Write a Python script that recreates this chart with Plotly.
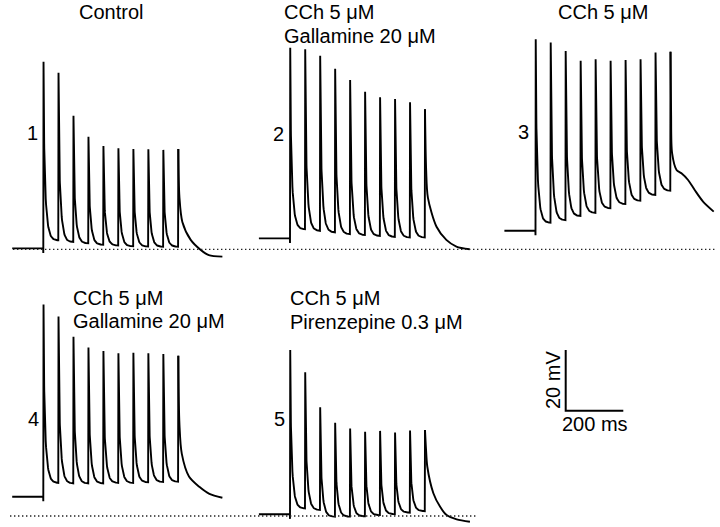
import numpy as np
import plotly.graph_objects as go

# ------------------------------------------------------------------
# Data (mV relative to the dotted reference line,
# time in ms relative to the first stimulus / last spike peak)
# ------------------------------------------------------------------
stim_interval_ms = 52.0
pre_stim_ms = 108.0
n_spikes = 10

panel_labels = ["1", "2", "3", "4", "5"]
panel_conditions = [
    ["Control"],
    ["CCh 5 μM", "Gallamine 20 μM"],
    ["CCh 5 μM"],
    ["CCh 5 μM", "Gallamine 20 μM"],
    ["CCh 5 μM", "Pirenzepine 0.3 μM"],
]

baseline_mv = [0.3, 3.6, 6.1, 6.35, 0.56]

peaks_1 = [61.7, 58.1, 43.9, 37.0, 34.0, 33.2, 33.0, 32.9, 32.7, 33.0]
peaks_2 = [66.3, 65.8, 63.7, 59.4, 55.7, 51.8, 50.0, 49.4, 48.4, 46.1]
peaks_3 = [69.1, 68.0, 65.2, 62.0, 62.5, 62.0, 62.3, 62.5, 64.7, 65.0]
peaks_4 = [69.6, 65.6, 59.0, 55.4, 54.3, 53.5, 53.7, 53.5, 53.3, 52.7]
peaks_5 = [54.6, 47.3, 35.8, 30.7, 28.8, 27.7, 28.0, 27.5, 28.1, 28.3]

# level reached just before spikes 2..10
troughs_1 = [2.96, 2.4, 1.97, 1.5, 1.25, 0.99, 0.92, 0.86, 0.86]
troughs_2 = [6.6, 6.1, 5.6, 5.0, 4.7, 4.4, 4.1, 3.9, 3.9]
troughs_3 = [8.75, 9.6, 10.95, 12.0, 13.5, 14.9, 16.0, 17.9, 19.3]
troughs_4 = [10.9, 10.75, 10.75, 10.75, 10.9, 10.9, 11.1, 11.2, 11.3]
troughs_5 = [2.5, 2.0, -0.2, -0.2, -0.1, 0.3, 0.6, 1.1, 1.6]

# decay after the last spike (ms after its peak, mV)
tail_t_1 = [0, 4, 14, 43, 78, 106, 153]
tail_v_1 = [33.0, 17.0, 9.0, 3.1, -0.2, -1.9, -2.4]
tail_t_2 = [0, 4, 10, 40, 74, 109, 155]
tail_v_2 = [46.1, 26.0, 17.0, 7.4, 3.1, 0.9, 0.0]
tail_t_3 = [0, 2, 5.5, 21, 38, 61, 84, 113, 150]
tail_v_3 = [65.0, 45.0, 31.6, 26.1, 25.0, 22.8, 19.5, 15.7, 12.4]
tail_t_4 = [0, 4, 12, 37, 73, 108, 153]
tail_v_4 = [52.7, 30.0, 20.5, 13.0, 9.6, 7.3, 6.0]
tail_t_5 = [0, 3.5, 8, 29, 52, 75, 110, 156]
tail_v_5 = [28.3, 22.0, 16.2, 7.5, 3.1, 0.3, -1.1, -1.9]

scale_mv = 20
scale_ms = 200

peaks = [peaks_1, peaks_2, peaks_3, peaks_4, peaks_5]
troughs = [troughs_1, troughs_2, troughs_3, troughs_4, troughs_5]
tails_t = [tail_t_1, tail_t_2, tail_t_3, tail_t_4, tail_t_5]
tails_v = [tail_v_1, tail_v_2, tail_v_3, tail_v_4, tail_v_5]

# ------------------------------------------------------------------
# Layout (canvas scale and panel placement)
# ------------------------------------------------------------------
W, H = 720, 527
PX_PER_MS = 0.288
PX_PER_MV = 3.04


def px2x(px):
    return px / PX_PER_MS


def px2y(py):
    return -py / PX_PER_MV


# stimulus x and dotted-line y of each panel, in canvas pixels
panel_origin_px = [(43.3, 249.3), (290.0, 249.3), (535.5, 249.3),
                   (43.3, 516.0), (290.0, 516.0)]
label_px = [(32.5, 133), (278, 134), (523, 132), (33, 419), (279, 419)]
cond_px = [(110.5, 12, "center"), (281.7, 12, "left"), (603, 12, "center"),
           (70.5, 297.5, "left"), (288.3, 298, "left")]
cond_dy = 23.5
dotted_rows = [(249.3, 13, 716), (516.0, 10, 478)]
scalebar_origin_px = (565.7, 410.7)

RISE = 0.8
ARTIFACT = 1.5
A_FAST, TAU_FAST, TAU_SLOW = 0.4, 1.5, 8.0


def decay_shape(tau, dur):
    h = A_FAST * np.exp(-tau / TAU_FAST) + (1 - A_FAST) * np.exp(-tau / TAU_SLOW)
    hd = A_FAST * np.exp(-dur / TAU_FAST) + (1 - A_FAST) * np.exp(-dur / TAU_SLOW)
    return (h - hd) / (1 - hd)


fig = go.Figure()
LW = 1.9

for k in range(5):
    ox_px, oy_px = panel_origin_px[k]
    x0 = px2x(ox_px)
    y0 = px2y(oy_px)
    b = baseline_mv[k]
    P = peaks[k]
    T = troughs[k]
    ts = [-pre_stim_ms, -0.4, 0.0]
    vs = [b, b, b - ARTIFACT]
    dur = stim_interval_ms - RISE
    tau = np.concatenate([np.linspace(0, 6, 25), np.linspace(6.5, dur, 40)])
    for i in range(n_spikes):
        onset = i * stim_interval_ms
        ts.append(onset + RISE)
        vs.append(P[i])
        if i < n_spikes - 1:
            g = decay_shape(tau[1:], dur)
            ts.extend(list(onset + RISE + tau[1:]))
            vs.extend(list(T[i] + (P[i] - T[i]) * g))
    fig.add_trace(go.Scatter(x=x0 + np.array(ts), y=y0 + np.array(vs),
                             mode="lines", line=dict(color="black", width=LW),
                             hoverinfo="skip", showlegend=False))
    last_peak_t = (n_spikes - 1) * stim_interval_ms + RISE
    fig.add_trace(go.Scatter(x=x0 + last_peak_t + np.array(tails_t[k]),
                             y=y0 + np.array(tails_v[k]),
                             mode="lines",
                             line=dict(color="black", width=LW,
                                       shape="spline", smoothing=0.8),
                             hoverinfo="skip", showlegend=False))

# dotted reference lines (0 mV level of each row)
for (py, xa, xb) in dotted_rows:
    fig.add_trace(go.Scatter(x=[px2x(xa), px2x(xb)], y=[px2y(py), px2y(py)],
                             mode="lines",
                             line=dict(color="#222222", width=1.3,
                                       dash="1.4px,2.6px"),
                             hoverinfo="skip", showlegend=False))

# scale bar
sx0 = px2x(scalebar_origin_px[0])
sy0 = px2y(scalebar_origin_px[1])
fig.add_trace(go.Scatter(x=[sx0, sx0, sx0 + scale_ms],
                         y=[sy0 + scale_mv, sy0, sy0],
                         mode="lines", line=dict(color="black", width=2),
                         hoverinfo="skip", showlegend=False))

FONT = dict(family="Liberation Sans, Arial, sans-serif", size=20, color="black")
ann = []
for k in range(5):
    lx, ly = label_px[k]
    ann.append(dict(x=px2x(lx), y=px2y(ly), text=panel_labels[k],
                    showarrow=False, xanchor="center", yanchor="middle", font=FONT))
    cx, cy, anchor = cond_px[k]
    for j, txt in enumerate(panel_conditions[k]):
        ann.append(dict(x=px2x(cx), y=px2y(cy + j * cond_dy), text=txt,
                        showarrow=False, xanchor=anchor, yanchor="middle", font=FONT))

ann.append(dict(x=px2x(553), y=px2y(380), text=f"{scale_mv} mV", textangle=-90,
                showarrow=False, xanchor="center", yanchor="middle", font=FONT))
ann.append(dict(x=px2x(595), y=px2y(424), text=f"{scale_ms} ms",
                showarrow=False, xanchor="center", yanchor="middle", font=FONT))

fig.update_layout(
    width=W, height=H,
    margin=dict(l=0, r=0, t=0, b=0),
    paper_bgcolor="white", plot_bgcolor="white",
    xaxis=dict(range=[0, px2x(W)], visible=False, fixedrange=True),
    yaxis=dict(range=[px2y(H), 0], visible=False, fixedrange=True),
    annotations=ann,
    showlegend=False,
)

fig.write_html("out.html", config={"displayModeBar": False, "staticPlot": True},
               post_script="document.body.style.margin='0';document.body.style.overflow='hidden';")
